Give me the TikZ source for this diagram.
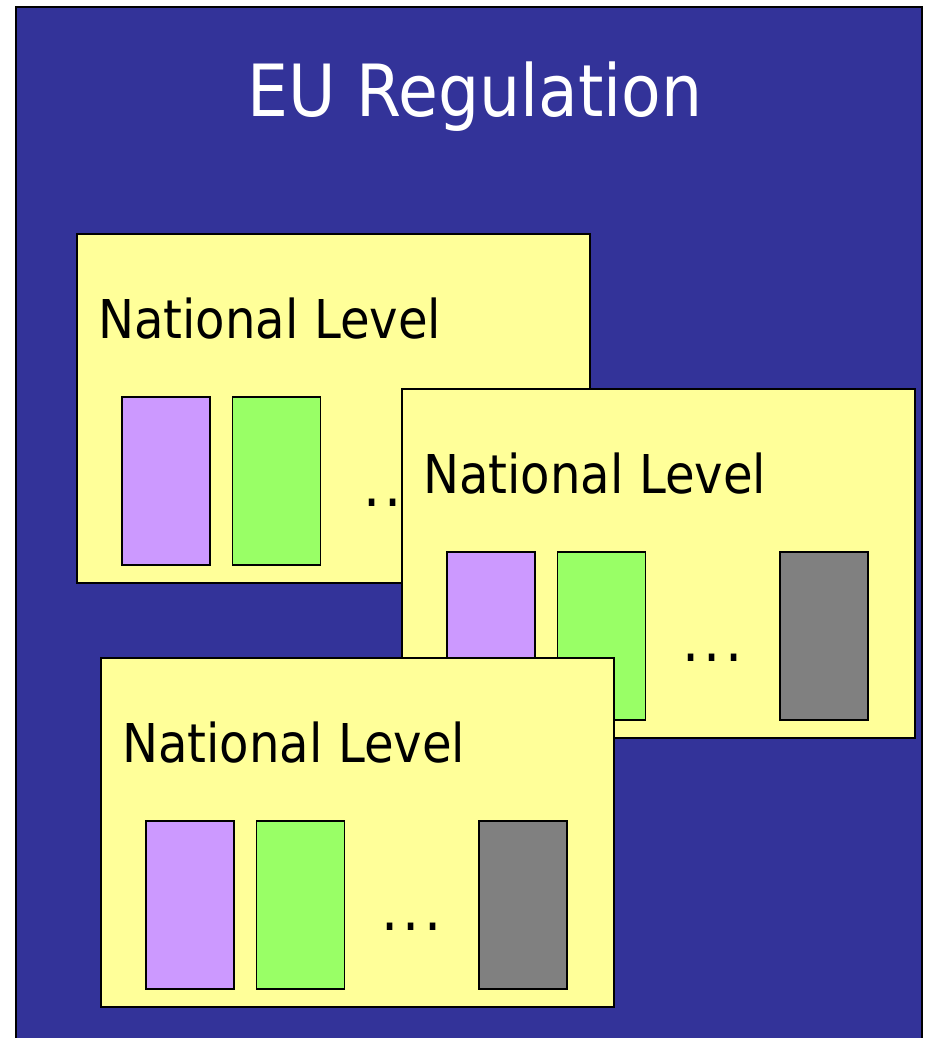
\documentclass[tikz,border=0pt]{standalone}
\usepackage{fontspec}
\setmainfont{DejaVu Sans}[FakeStretch=0.9]
\usepackage{tikz}
\usetikzlibrary{positioning,calc}
\definecolor{euBlue}{RGB}{51,51,153}
\definecolor{natYellow}{RGB}{255,255,153}
\definecolor{barPurple}{RGB}{204,153,255}
\definecolor{barGreen}{RGB}{153,255,102}
\definecolor{barGray}{RGB}{128,128,128}
\tikzstyle{natbox}=[rectangle, draw, line width=1.5pt, fill=natYellow, minimum width=513pt, minimum height=349pt, inner sep=0, anchor=north west]
\tikzstyle{natbar}=[rectangle, draw, line width=1.5pt, minimum width=88pt, minimum height=168pt, inner sep=0, anchor=north west]
\tikzstyle{natlabel}=[inner sep=0, anchor=base west, font=\fontsize{53.5}{60}\selectfont]
\tikzstyle{natdots}=[inner sep=0, anchor=base, font=\fontsize{60}{60}\selectfont]
\newcommand{\natdotsText}{.\kern4pt.\kern4pt.}

\begin{document}
\begin{tikzpicture}[x=1pt,y=-1pt]
	\useasboundingbox (0,0) rectangle (924,1038);

	%%% background, EU level
	\fill[euBlue] (16,7) rectangle (922,1038);
	\draw[line width=2pt] (16,1038) -- (16,7) -- (922,7) -- (922,1038);
	\node[inner sep=0, anchor=base, font=\fontsize{72}{80}\selectfont, text=white] (euTitle) at (475,117) {EU Regulation};

	%%% first national box
	\node[natbox] (nat1) at (76,233) {};
	\node[natlabel] (nat1Label) at ([xshift=22pt,yshift=-105pt]nat1.north west) {National Level};
	\node[natbar, fill=barPurple] (nat1Purple) at ([xshift=45pt,yshift=-163pt]nat1.north west) {};
	\node[natbar, fill=barGreen, right=21pt of nat1Purple] (nat1Green) {};
	\node[natdots] (nat1Dots) at ([xshift=72pt,yshift=-26pt]nat1Green.east) {\natdotsText};

	%%% second national box
	\node[natbox] (nat2) at (401,388) {};
	\node[natlabel] (nat2Label) at ([xshift=22pt,yshift=-105pt]nat2.north west) {National Level};
	\node[natbar, fill=barPurple] (nat2Purple) at ([xshift=45pt,yshift=-163pt]nat2.north west) {};
	\node[natbar, fill=barGreen, right=21pt of nat2Purple] (nat2Green) {};
	\node[natbar, fill=barGray, right=133pt of nat2Green] (nat2Gray) {};
	\node[natdots] (nat2Dots) at ([yshift=-26pt]$(nat2Green.east)!0.5!(nat2Gray.west)$) {\natdotsText};

	%%% third national box
	\node[natbox] (nat3) at (100,657) {};
	\node[natlabel] (nat3Label) at ([xshift=22pt,yshift=-105pt]nat3.north west) {National Level};
	\node[natbar, fill=barPurple] (nat3Purple) at ([xshift=45pt,yshift=-163pt]nat3.north west) {};
	\node[natbar, fill=barGreen, right=21pt of nat3Purple] (nat3Green) {};
	\node[natbar, fill=barGray, right=133pt of nat3Green] (nat3Gray) {};
	\node[natdots] (nat3Dots) at ([yshift=-26pt]$(nat3Green.east)!0.5!(nat3Gray.west)$) {\natdotsText};
\end{tikzpicture}
\end{document}
